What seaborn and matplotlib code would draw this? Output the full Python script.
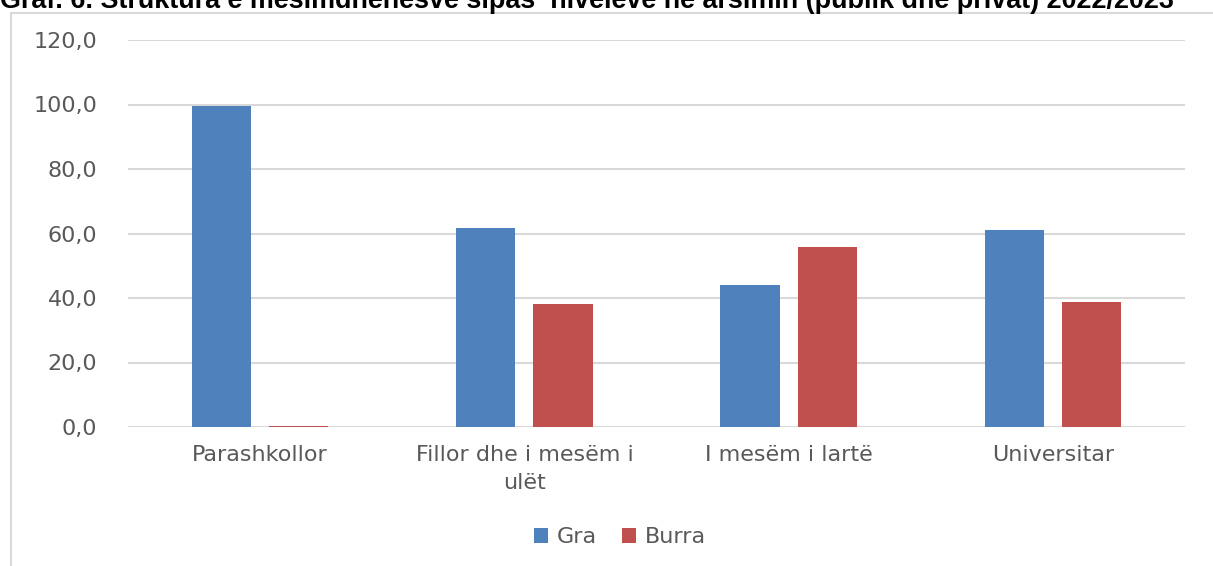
import matplotlib
matplotlib.use("Agg")
import matplotlib.pyplot as plt
import seaborn as sns
import pandas as pd
from matplotlib.patches import Rectangle, Patch

categories = ["Parashkollor", "Fillor dhe i mesëm i\nulët", "I mesëm i lartë", "Universitar"]
series_names = ["Gra", "Burra"]
gra = [99.6, 61.8, 44.1, 61.2]
burra = [0.4, 38.2, 55.9, 38.8]
yticks = [0, 20, 40, 60, 80, 100, 120]
title = "Graf. 6. Struktura e mesimdhenesve sipas  niveleve ne arsimin (publik dhe privat) 2022/2023"
colors = ["#4F81BD", "#C0504D"]

df = pd.DataFrame({
    "cat": categories * 2,
    "val": gra + burra,
    "sex": [series_names[0]] * 4 + [series_names[1]] * 4,
})

sns.set_theme(style="white")
plt.rcParams["font.family"] = ["DejaVu Sans"]

fig = plt.figure(figsize=(12.13, 5.66), dpi=100)
ax = fig.add_axes([128/1213, 1 - 427/566, (1185 - 128)/1213, (427 - 40)/566])

sns.barplot(data=df, x="cat", y="val", hue="sex", palette=colors, width=0.584, gap=0.233,
            ax=ax, legend=False, saturation=1, edgecolor="none")

ax.set_xlim(-0.5, 3.5)
ax.set_ylim(0, 120)
ax.set_yticks(yticks)
ax.set_yticklabels([f"{v:.1f}".replace(".", ",") for v in yticks])
ax.set_xlabel("")
ax.set_ylabel("")
ax.yaxis.grid(True, color="#d9d9d9", linewidth=1.5)
ax.set_axisbelow(True)
for s in ax.spines.values():
    s.set_visible(False)
ax.tick_params(axis="y", length=0, pad=22, labelsize=16, labelcolor="#595959")
ax.tick_params(axis="x", length=0, pad=13, labelsize=16, labelcolor="#595959")
for lbl in ax.get_xticklabels():
    lbl.set_linespacing(1.5)

handles = [Patch(facecolor=c, edgecolor="none") for c in colors]
fig.legend(handles, series_names, loc="center", bbox_to_anchor=(620/1213, 1 - 537/566),
           ncol=2, frameon=False, fontsize=16, labelcolor="#595959",
           handlelength=0.65, handleheight=0.65, handletextpad=0.4, columnspacing=1.1)

fig.patches.append(Rectangle((11/1213, -0.1), 1.1, 1.1 - 13/566,
                             transform=fig.transFigure, fill=False,
                             edgecolor="#d9d9d9", linewidth=1.5))

fig.text(0.0, 1 - 8/566, title, ha="left", va="baseline", fontsize=19.4,
         fontweight="bold", family=["Liberation Sans", "DejaVu Sans"], color="black")

fig.savefig("out.png", dpi=100)
